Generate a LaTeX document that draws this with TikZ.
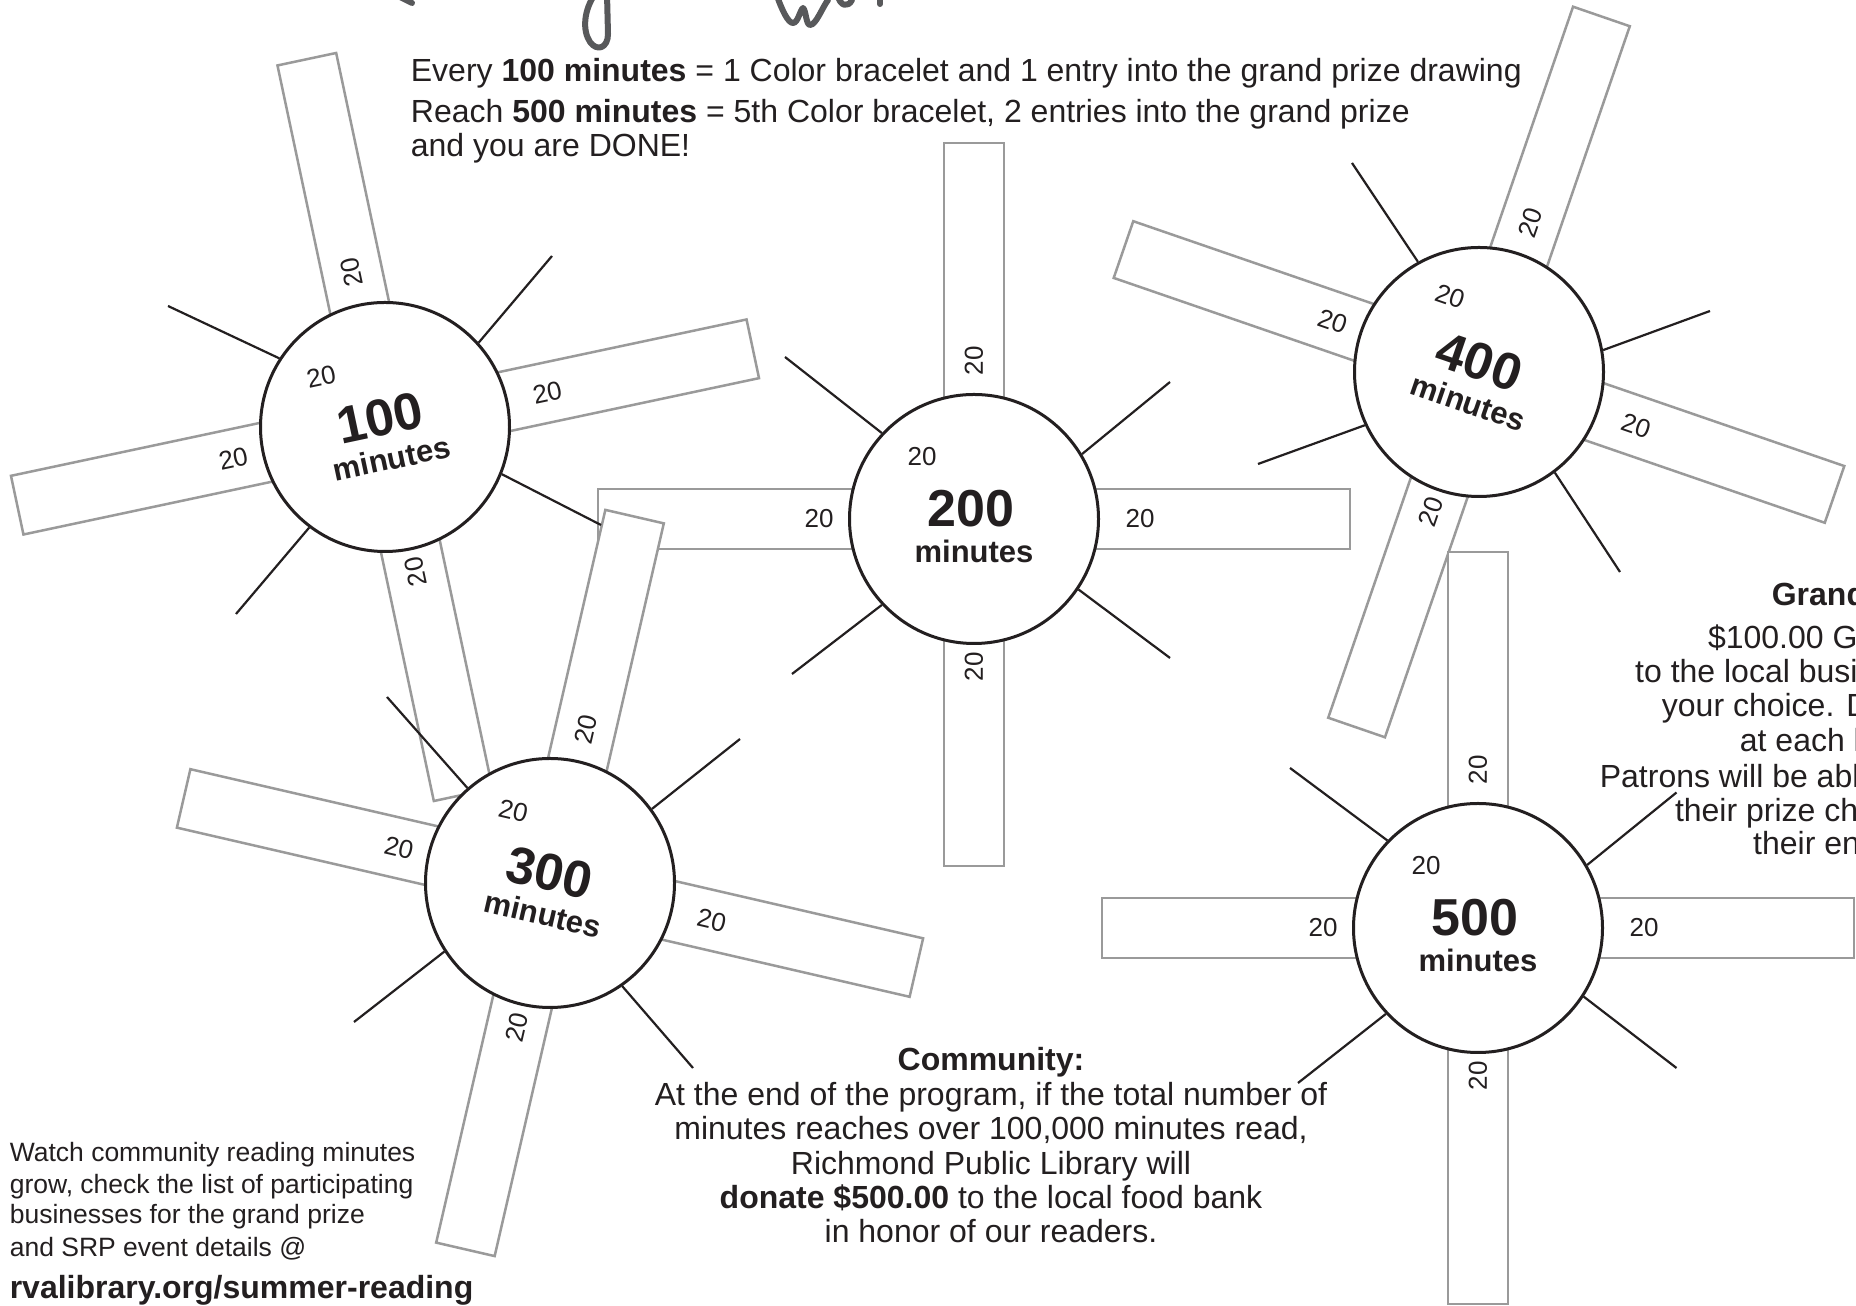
\documentclass[tikz,border=0pt]{standalone}
\usepackage{fontspec}
\setmainfont{Liberation Sans}
\definecolor{ink}{HTML}{231F20}
\definecolor{stripgray}{HTML}{9A9A9A}
\definecolor{handgray}{HTML}{58595B}
\newcommand{\sunstrips}[3]{%
  \begin{scope}[shift={#1}, rotate=#2]
    \draw[strip] (0,-30) -- (376,-30) -- (376,30) -- (0,30) -- cycle;
    \draw[strip, rotate=90] (0,-30) -- (376,-30) -- (376,30) -- (0,30) -- cycle;
    \draw[strip, rotate=180] (0,-30) -- (376,-30) -- (376,30) -- (0,30) -- cycle;
    \draw[strip, rotate=270] (0,-30) -- (#3,-30) -- (#3,30) -- (0,30) -- cycle;
  \end{scope}}
\newcommand{\sunlabels}[4]{%
  \begin{scope}[shift={#2}, rotate=#3, transform shape]
    \node[lbl] (#1-in) at (-52,62) {20};
    \node[lbl] (#1-l) at (-155,0) {20};
    \node[lbl] (#1-r) at (166,0) {20};
    \node[lbl, rotate=90] (#1-t) at (0,158) {20};
    \node[lbl, rotate=90] (#1-b) at (0,-148) {20};
    \node[numb] (#1-num) at (-3,10) {#4};
    \node[minu] (#1-min) at (0,-32) {minutes};
  \end{scope}}
\begin{document}
\begin{tikzpicture}[x=1pt,y=1pt,
  strip/.style={draw=stripgray, line width=2.5pt, fill=white, line join=miter},
  sun/.style={circle, draw=ink, line width=3pt, fill=white, minimum size=249pt, inner sep=0pt},
  ray/.style={draw=ink, line width=2.2pt},
  lbl/.style={inner sep=0pt, text=ink, font=\fontsize{26}{28}\selectfont},
  numb/.style={inner sep=0pt, text=ink, font=\fontsize{52}{54}\selectfont\bfseries},
  minu/.style={inner sep=0pt, text=ink, font=\fontsize{31}{33}\selectfont\bfseries},
  body/.style={inner sep=0pt, text=ink, font=\fontsize{32}{34}\selectfont},
  small/.style={inner sep=0pt, text=ink, font=\fontsize{26.5}{28}\selectfont},
  hand/.style={draw=handgray, line width=6pt, line cap=round, line join=round}
]
\useasboundingbox (0,0) rectangle (1856,1306);
\clip (0,0) rectangle (1856,1306);
\fill[white] (0,0) rectangle (1856,1306);

% strips
\sunstrips{(385,879)}{12}{376}
\sunstrips{(974,787)}{0}{347}
\sunstrips{(1479,934)}{-19}{376}
\sunstrips{(1478,378)}{0}{376}
\sunstrips{(550,423)}{-13}{376}

% suns
\node[sun] (s1) at (385,879) {};
\node[sun] (s2) at (974,787) {};
\node[sun] (s3) at (550,423) {};
\node[sun] (s4) at (1479,934) {};
\node[sun] (s5) at (1478,378) {};

% labels
\sunlabels{a}{(385,879)}{12}{100}
\sunlabels{b}{(974,787)}{0}{200}
\sunlabels{c}{(550,423)}{-13}{300}
\sunlabels{d}{(1479,934)}{-19}{400}
\sunlabels{e}{(1478,378)}{0}{500}

% ray ends
\coordinate (r11) at (168,1000);
\coordinate (r12) at (552,1050);
\coordinate (r13) at (601,781);
\coordinate (r14) at (236,692);
\coordinate (r21) at (785,949);
\coordinate (r22) at (1170,924);
\coordinate (r23) at (1170,648);
\coordinate (r24) at (792,632);
\coordinate (r31) at (387,609);
\coordinate (r32) at (740,567);
\coordinate (r33) at (693,238);
\coordinate (r34) at (354,284);
\coordinate (r41) at (1352,1143);
\coordinate (r42) at (1710,995);
\coordinate (r43) at (1620,734);
\coordinate (r44) at (1258,842);
\coordinate (r51) at (1290,538);
\coordinate (r52) at (1676.5,513.5);
\coordinate (r53) at (1676.5,238);
\coordinate (r54) at (1298,223);

% rays
\draw[ray] (s1.147.8) -- (r11);
\draw[ray] (s1.42.6) -- (r12);
\draw[ray] (s1.-22.9) -- (r13);
\draw[ray] (s1.233) -- (r14);
\draw[ray] (s2.137.5) -- (r21);
\draw[ray] (s2.31.8) -- (r22);
\draw[ray] (s2.-34) -- (r23);
\draw[ray] (s2.223) -- (r24);
\draw[ray] (s3.131.5) -- (r31);
\draw[ray] (s3.36.9) -- (r32);
\draw[ray] (s3.-55.3) -- (r33);
\draw[ray] (s3.213.3) -- (r34);
\draw[ray] (s4.119) -- (r41);
\draw[ray] (s4.10.9) -- (r42);
\draw[ray] (s4.-53.7) -- (r43);
\draw[ray] (s4.205.6) -- (r44);
\draw[ray] (s5.136.9) -- (r51);
\draw[ray] (s5.30.6) -- (r52);
\draw[ray] (s5.-33.2) -- (r53);
\draw[ray] (s5.223) -- (r54);

% header text
\node[body, anchor=base west] (h1) at (410.7,1224) {Every \textbf{100 minutes} = 1 Color bracelet and 1 entry into the grand prize drawing};
\node[body, anchor=base west] (h2) at (410.7,1183.3) {Reach \textbf{500 minutes} = 5th Color bracelet, 2 entries into the grand prize};
\node[body, anchor=base west] (h3) at (410.7,1149.3) {and you are DONE!};

% community
\node[body, anchor=base] (c0) at (991,235.3) {\textbf{Community:}};
\node[body, anchor=base] (c1) at (991,200) {At the end of the program, if the total number of};
\node[body, anchor=base] (c2) at (991,166) {minutes reaches over 100,000 minutes read,};
\node[body, anchor=base] (c3) at (991,131) {Richmond Public Library will};
\node[body, anchor=base] (c4) at (991,97) {\textbf{donate \$500.00} to the local food bank};
\node[body, anchor=base] (c5) at (991,63) {in honor of our readers.};

% watch
\node[small, anchor=base west] (w1) at (9.6,144.3) {Watch community reading minutes};
\node[small, anchor=base west] (w2) at (9.6,112.7) {grow, check the list of participating};
\node[small, anchor=base west] (w3) at (9.6,82) {businesses for the grand prize};
\node[small, anchor=base west] (w4) at (9.6,49.3) {and SRP event details @};
\node[body, anchor=base west] (url) at (9.6,7.7) {\textbf{rvalibrary.org/summer-reading}};

% grand prize (cut off at right edge)
\node[body, anchor=base west] (g0) at (1771.6,700) {\textbf{Grand Prize:}};
\node[body, anchor=base west] (g1) at (1707.8,657.7) {\$100.00 Gift Card};
\node[body, anchor=base west] (g2) at (1635,623.3) {to the local business of};
\node[body, anchor=base west] (g3) at (1661.7,589.3) {your choice. Drawing};
\node[body, anchor=base west] (g4) at (1739.7,554.3) {at each library.};
\node[body, anchor=base west] (g5) at (1599.6,518.7) {Patrons will be able to};
\node[body, anchor=base west] (g6) at (1674.8,484.3) {their prize choice on};
\node[body, anchor=base west] (g7) at (1753,451) {their entry.};

% handwritten title fragments (cut off at top)
\draw[hand] (607,1312) -- (608,1272) .. controls (608,1258) and (597,1254) .. (590,1264) .. controls (582,1276) and (584,1296) .. (595,1312);
\draw[hand] (777,1310) .. controls (782,1296) and (788,1283) .. (793,1283) .. controls (798,1283) and (800,1296) .. (803,1298) .. controls (806,1296) and (806,1281) .. (810,1281) .. controls (816,1281) and (822,1298) .. (828,1306);
\draw[hand] (838,1310) .. controls (840,1300) and (848,1298) .. (852,1306);
\draw[hand] (880,1309) -- (880,1302);
\draw[hand] (400,1309) -- (412,1303);
\end{tikzpicture}
\end{document}
